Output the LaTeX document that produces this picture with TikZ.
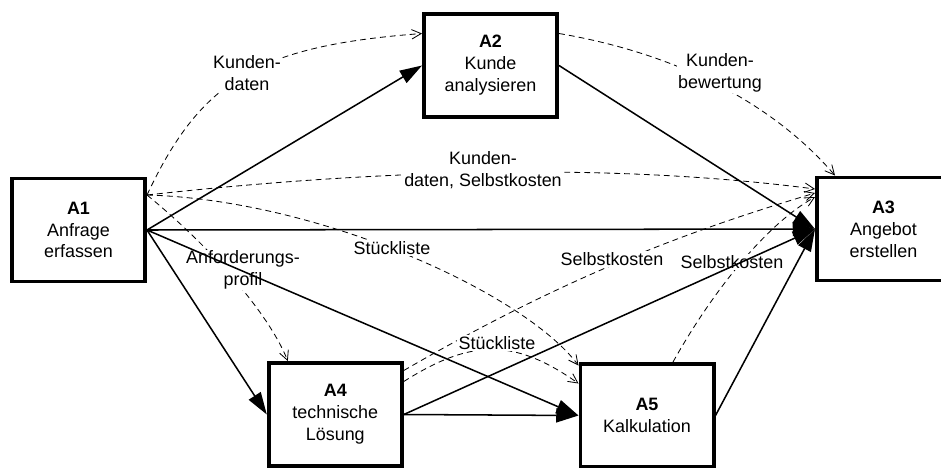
\documentclass[tikz,border=0pt]{standalone}
\usepackage{fontspec}
\setmainfont{Liberation Sans}
\usetikzlibrary{arrows.meta,calc}
\begin{document}
\begin{tikzpicture}[x=0.03cm,y=-0.03cm,
  box/.style={draw, line width=3.4pt, fill=white, minimum width=3.99cm, minimum height=3.09cm, align=center, inner sep=0pt, font=\fontsize{15.3}{18.7}\selectfont},
  flow/.style={line width=1.3pt, -{Triangle[length=19pt,width=12pt]}},
  info/.style={line width=0.7pt, dash pattern=on 5pt off 3.5pt, -{Straight Barb[length=8pt,width=8pt]}},
  lbl/.style={fill=white, inner sep=1pt, align=center, font=\fontsize{15.3}{18.7}\selectfont}]
\useasboundingbox (0,0) rectangle (941,467);
% boxes
\node[box] (A1) at (78.5,230) {\textbf{A1}\\Anfrage\\erfassen};
\node[box] (A2) at (490.5,65.5) {\textbf{A2}\\Kunde\\analysieren};
\node[box] (A3) at (883.5,229) {\textbf{A3}\\Angebot\\erstellen};
\node[box] (A4) at (335.3,414.5) {\textbf{A4}\\technische\\Lösung};
\node[box] (A5) at (647,415.5) {\textbf{A5}\\Kalkulation};
% information flows (dashed)
\draw[info] ($(A1.east)+(0,-35)$) .. controls (201,80) and (258,46) .. ($(A2.west)+(0,-32)$);
\draw[info] ($(A2.east)+(0,-32)$) .. controls (685,55) and (777,108) .. ($(A3.north west)+(20,0)$);
\draw[info] ($(A1.east)+(0,-35)$) .. controls (364,171) and (599,161) .. ($(A3.west)+(0,-40)$);
\draw[info] ($(A1.east)+(0,-35)$) .. controls (320,200) and (524,293) .. ($(A5.west)+(0,-50)$);
\draw[info] ($(A1.east)+(0,-35)$) .. controls (200,238) and (266,307) .. ($(A4.north west)+(21,0)$);
\draw[info] ($(A4.east)+(0,-44)$) .. controls (577,270) and (702,227) .. ($(A3.west)+(0,-36)$);
\draw[info] ($(A5.north)+(26,0)$) .. controls (711,294) and (765,225) .. ($(A3.west)+(0,-32)$);
\draw[info] ($(A4.east)+(0,-33)$) .. controls (471,339) and (514,338) .. ($(A5.west)+(0,-32)$);
% labels
\node[lbl] (l1) at (247,73) {Kunden-\\daten};
\node[lbl] (l2) at (720,73) {Kunden-\\bewertung};
\node[lbl] (l3) at (483,170) {Kunden-\\daten, Selbstkosten};
\node[lbl] (l4) at (392,248) {Stückliste};
\node[lbl] (l5) at (243,270) {Anforderungs-\\profil};
\node[lbl] (l6) at (612,259) {Selbstkosten};
\node[lbl] (l7) at (732,262) {Selbstkosten};
\node[lbl] (l8) at (497,343) {Stückliste};
% control flows (solid)
\draw[flow] (A1.east) -- (A2.west);
\draw[flow] (A1.east) -- (A3.west);
\draw[flow] (A1.east) -- (A4.west);
\draw[flow] (A1.east) -- (A5.west);
\draw[flow] (A2.east) -- (A3.west);
\draw[flow] (A4.east) -- (A3.west);
\draw[flow] (A4.east) -- (A5.west);
\draw[flow] (A5.east) -- (A3.west);
\end{tikzpicture}
\end{document}
